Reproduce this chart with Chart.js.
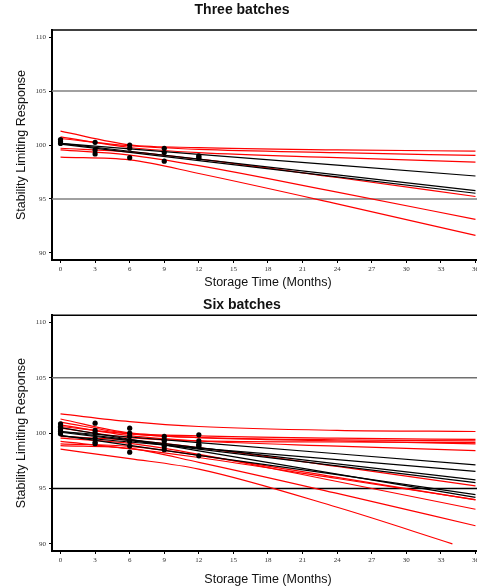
<!DOCTYPE html>
<html>
<head>
<meta charset="utf-8">
<script src="https://cdn.jsdelivr.net/npm/chart.js@4.4.1/dist/chart.umd.min.js"></script>
<style>
  html, body { margin: 0; padding: 0; background: #fff; overflow: hidden; }
  #wrap { width: 477px; height: 588px; overflow: hidden; }
  canvas { display: block; }
</style>
</head>
<body>
<div id="wrap">
  <canvas id="top" width="492" height="290"></canvas>
  <canvas id="bottom" width="492" height="298"></canvas>
</div>
<script>
// Axes
const xMin = -0.74, xMax = 36.74;
const yMin = 89.35, yMax = 110.65;
const xTicks = [0, 3, 6, 9, 12, 15, 18, 21, 24, 27, 30, 33, 36];
const yTicks = [90, 95, 100, 105, 110];
const specLimits = [95, 105];

// Months where the fitted lines / bounds were read
const lineMonths = [0, 6, 12, 24, 36];
const pointMonths = [0, 3, 6, 9, 12];

// Batch 1
const b1Fit = [100.15, 99.65, 99.14, 98.14, 97.13];
const b1Upper = [100.60, 99.93, 99.59, 99.29, 99.03];
const b1Lower = [99.70, 99.37, 98.69, 96.99, 95.23];
const b1Pts = [100.3, 100.25, 100.0, 99.7, 99.0];
// Batch 2
const b2Fit = [100.15, 99.42, 98.69, 97.23, 95.77];
const b2Upper = [100.75, 99.77, 99.29, 98.83, 98.42];
const b2Lower = [99.55, 99.07, 98.09, 95.63, 93.12];
const b2Pts = [100.5, 99.54, 99.7, 99.3, 98.9];
// Batch 3
const b3Fit = [100.08, 99.32, 98.56, 97.05, 95.53];
const b3Upper = [101.28, 100.02, 99.76, 99.55, 99.43];
const b3Lower = [98.88, 98.62, 97.36, 94.55, 91.63];
const b3Pts = [100.15, 99.17, 98.83, 98.5, 98.77];
// Batch 4
const b4Fit = [99.75, 99.2, 98.65, 97.6, 96.55];
const b4Upper = [100.45, 99.6, 99.3, 99.2, 99.15];
const b4Lower = [99.03, 98.8, 98.0, 96.0, 93.97];
const b4Pts = [99.95, 100.0, 99.25, 99.4, 99.3];
// Batch 5 (lower bound stops at the axis)
const b5Fit = [99.8, 98.9, 98.0, 96.25, 94.45];
const b5Upper = [101.0, 99.95, 99.6, 99.4, 99.3];
const b5LowerMonths = [0, 6, 12, 24, 34];
const b5Lower = [98.55, 97.7, 96.75, 93.3, 90.0];
const b5Pts = [100.6, 99.05, 98.28, 99.0, 97.95];
// Batch 6
const b6Fit = [100.5, 99.45, 98.4, 96.3, 94.2];
const b6Upper = [101.74, 101.05, 100.6, 100.25, 100.15];
const b6Lower = [99.25, 98.6, 97.8, 95.9, 94.0];
const b6Pts = [100.85, 100.9, 100.45, 98.8, 99.85];

const batches = [
  { fit: b1Fit, upper: b1Upper, lower: b1Lower, pts: b1Pts },
  { fit: b2Fit, upper: b2Upper, lower: b2Lower, pts: b2Pts },
  { fit: b3Fit, upper: b3Upper, lower: b3Lower, pts: b3Pts },
  { fit: b4Fit, upper: b4Upper, lower: b4Lower, pts: b4Pts },
  { fit: b5Fit, upper: b5Upper, lower: b5Lower, lowerMonths: b5LowerMonths, pts: b5Pts },
  { fit: b6Fit, upper: b6Upper, lower: b6Lower, pts: b6Pts }
];

const toXY = (xs, ys) => xs.map((x, i) => ({ x: x, y: ys[i] }));

Chart.defaults.font.family = "'Liberation Sans', Arial, sans-serif";
Chart.defaults.color = "#111";

// frame line along the top of the plot
const topFrame = {
  id: "topFrame",
  afterDraw(chart) {
    const a = chart.chartArea, ctx = chart.ctx;
    ctx.save();
    ctx.strokeStyle = "#000";
    ctx.lineWidth = 1.5;
    ctx.beginPath();
    ctx.moveTo(a.left, a.top);
    ctx.lineTo(a.right, a.top);
    ctx.stroke();
    ctx.restore();
  }
};

function buildDatasets(list, limitColors) {
  const ds = [];
  // points on top
  list.forEach(b => ds.push({
    data: toXY(pointMonths, b.pts),
    showLine: false,
    pointRadius: 2.6,
    pointBackgroundColor: "#000",
    pointBorderWidth: 0,
    order: 0
  }));
  list.forEach(b => ds.push({
    data: toXY(lineMonths, b.fit),
    borderColor: "#000",
    borderWidth: 1.2,
    pointRadius: 0,
    tension: 0,
    order: 1
  }));
  list.forEach(b => {
    [[lineMonths, b.upper], [b.lowerMonths || lineMonths, b.lower]].forEach(([xs, ys]) => ds.push({
      data: toXY(xs, ys),
      borderColor: "#ff0000",
      borderWidth: 1.2,
      pointRadius: 0,
      cubicInterpolationMode: "monotone",
      order: 2
    }));
  });
  specLimits.forEach((v, i) => ds.push({
    data: [{ x: xMin, y: v }, { x: xMax, y: v }],
    borderColor: limitColors[i],
    borderWidth: 1.5,
    pointRadius: 0,
    order: 3
  }));
  return ds;
}

function makeChart(id, titleText, list, opts) {
  return new Chart(document.getElementById(id), {
    type: "line",
    data: { datasets: buildDatasets(list, opts.limitColors) },
    options: {
      responsive: false,
      animation: false,
      devicePixelRatio: 1,
      layout: { padding: { top: 0, right: 8, bottom: 0, left: 0 } },
      plugins: {
        legend: { display: false },
        tooltip: { enabled: false },
        title: {
          display: true,
          text: titleText,
          color: "#111",
          font: { size: 14, weight: "bold" },
          padding: opts.titlePad
        }
      },
      scales: {
        x: {
          type: "linear",
          min: xMin,
          max: xMax,
          afterBuildTicks: s => { s.ticks = xTicks.map(v => ({ value: v })); },
          afterFit: s => { s.height = opts.xHeight; },
          grid: { drawOnChartArea: false, drawTicks: true, tickLength: 3, color: "#000" },
          border: { display: true, color: "#000", width: 2 },
          ticks: {
            autoSkip: false, maxRotation: 0, padding: 2, color: "#333",
            font: { family: "'Liberation Serif', 'DejaVu Serif', serif", size: 7 }
          },
          title: {
            display: true,
            text: "Storage Time (Months)",
            color: "#111",
            font: { size: 12.5 },
            padding: { top: 0, bottom: opts.xTitlePad }
          }
        },
        y: {
          min: yMin,
          max: yMax,
          afterBuildTicks: s => { s.ticks = yTicks.map(v => ({ value: v })); },
          afterFit: s => { s.width = 52; },
          grid: { drawOnChartArea: false, drawTicks: true, tickLength: 3, color: "#000" },
          border: { display: true, color: "#000", width: 2 },
          ticks: {
            padding: 3, color: "#333",
            font: { family: "'Liberation Serif', 'DejaVu Serif', serif", size: 7 }
          },
          title: {
            display: true,
            text: "Stability Limiting Response",
            color: "#111",
            font: { size: 12.5 },
            padding: { top: 14.5, bottom: 0 }
          }
        }
      }
    },
    plugins: [topFrame]
  });
}

makeChart("top", "Three batches", batches.slice(0, 3), {
  limitColors: ["#808080", "#808080"],
  titlePad: { top: 2, bottom: 11.2 },
  xHeight: 30,
  xTitlePad: 0
});

makeChart("bottom", "Six batches", batches, {
  limitColors: ["#000", "#707070"],
  titlePad: { top: 7, bottom: 1.5 },
  xHeight: 37,
  xTitlePad: 0.5
});
</script>
</body>
</html>
